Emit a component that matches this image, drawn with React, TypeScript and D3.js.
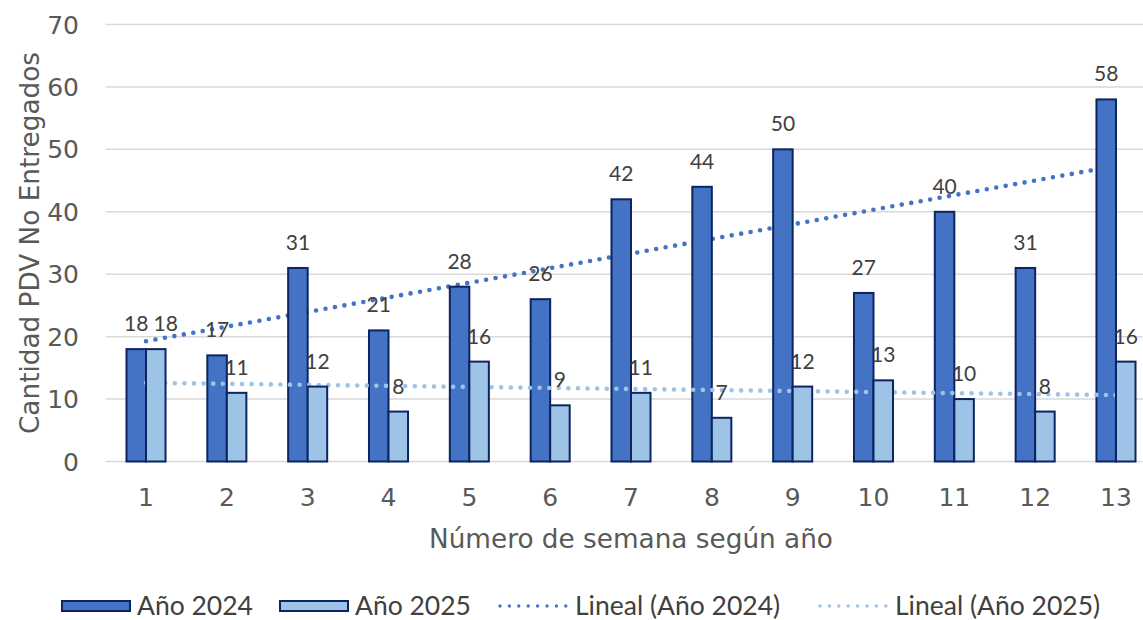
import React from "react";
import * as d3 from "d3";

// Weekly counts of undelivered points of sale (PDV), by year
const weeks: number[] = [1, 2, 3, 4, 5, 6, 7, 8, 9, 10, 11, 12, 13];
const values2024: number[] = [18, 17, 31, 21, 28, 26, 42, 44, 50, 27, 40, 31, 58];
const values2025: number[] = [18, 11, 12, 8, 16, 9, 11, 7, 12, 13, 10, 8, 16];
const yTicks: number[] = [0, 10, 20, 30, 40, 50, 60, 70];
const seriesNames: string[] = ["Año 2024", "Año 2025"];
const trendNames: string[] = ["Lineal (Año 2024)", "Lineal (Año 2025)"];

const W = 1143;
const H = 620;

const C2024 = "#4472C4";
const C2025 = "#9DC3E6";
const BAR_STROKE = "#0C2560";
const TICK_COLOR = "#595959";
const LABEL_COLOR = "#404040";
const AXIS_FONT = "'DejaVu Sans', Verdana, sans-serif";
const LABEL_FONT = "Lato, 'Open Sans', sans-serif";

// Least-squares line over (week, value), as a spreadsheet linear trendline
function linearFit(xs: number[], ys: number[]) {
  const mx = d3.mean(xs) as number;
  const my = d3.mean(ys) as number;
  let sxy = 0;
  let sxx = 0;
  xs.forEach((x, i) => {
    sxy += (x - mx) * (ys[i] - my);
    sxx += (x - mx) * (x - mx);
  });
  const slope = sxy / sxx;
  const intercept = my - slope * mx;
  return (x: number) => intercept + slope * x;
}

export default function App() {
  const plotLeft = 105.6;
  const plotRight = 1156.4;
  const gridRight = 1143;

  const x = d3
    .scaleBand<number>()
    .domain(weeks)
    .range([plotLeft, plotRight])
    .paddingInner(0.517)
    .paddingOuter(0.2585);
  const xSeries = d3
    .scaleBand<string>()
    .domain(seriesNames)
    .range([0, x.bandwidth()]);
  const y = d3.scaleLinear().domain([0, 70]).range([461.5, 24.5]);

  const center = (w: number) => (x(w) as number) + x.bandwidth() / 2;

  const fit2024 = linearFit(weeks, values2024);
  const fit2025 = linearFit(weeks, values2025);
  const first = weeks[0];
  const last = weeks[weeks.length - 1];
  const trendPath = (f: (v: number) => number) =>
    d3
      .line<number>()
      .x((w) => center(w))
      .y((w) => y(f(w)))([first, last]) as string;

  const bars = (vals: number[], si: number, fill: string) =>
    vals.map((v, i) => {
      const w = weeks[i];
      const bx = (x(w) as number) + (xSeries(seriesNames[si]) as number);
      return (
        <rect
          key={`b${si}-${w}`}
          x={bx}
          y={y(v)}
          width={xSeries.bandwidth()}
          height={y(0) - y(v)}
          fill={fill}
          stroke={BAR_STROKE}
          strokeWidth={2}
        />
      );
    });

  // Data labels sit above each bar; when the two labels of a week would
  // collide, the second one is nudged to the right.
  const labelOffset = 18;
  const labelSize = 21;
  const labels: React.ReactNode[] = [];
  weeks.forEach((w, i) => {
    const v1 = values2024[i];
    const v2 = values2025[i];
    const x1 = (x(w) as number) + (xSeries(seriesNames[0]) as number) + xSeries.bandwidth() / 2;
    const x2 = (x(w) as number) + (xSeries(seriesNames[1]) as number) + xSeries.bandwidth() / 2;
    const y1 = y(v1) - labelOffset;
    const y2 = y(v2) - labelOffset;
    const dx2 = Math.abs(y1 - y2) < 16 ? 10 : 0;
    labels.push(
      <text key={`l1-${w}`} x={x1} y={y1} textAnchor="middle" fontSize={labelSize} fill={LABEL_COLOR} fontFamily={LABEL_FONT}>
        {v1}
      </text>,
      <text key={`l2-${w}`} x={x2 + dx2} y={y2} textAnchor="middle" fontSize={labelSize} fill={LABEL_COLOR} fontFamily={LABEL_FONT}>
        {v2}
      </text>
    );
  });

  const dotted = (color: string, width: number, gap: number) => ({
    stroke: color,
    strokeWidth: width,
    strokeLinecap: "round" as const,
    strokeDasharray: `0 ${gap}`,
    fill: "none",
  });

  const legendY = 606;
  const legendItems = [
    { kind: "bar", fill: C2024, x0: 62, text: seriesNames[0] },
    { kind: "bar", fill: C2025, x0: 280, text: seriesNames[1] },
    { kind: "line", fill: C2024, x0: 500, text: trendNames[0] },
    { kind: "line", fill: C2025, x0: 820, text: trendNames[1] },
  ];

  return (
    <svg
      width={W}
      height={H}
      style={{ position: "absolute", left: 0, top: 0, background: "#fff" }}
    >
      <rect x={0} y={0} width={W} height={H} fill="#fff" />
      {/* gridlines */}
      {yTicks.map((t) => (
        <line key={`g${t}`} x1={plotLeft} x2={gridRight} y1={y(t)} y2={y(t)} stroke="#D9D9D9" strokeWidth={1.5} />
      ))}
      {/* y tick labels */}
      {yTicks.map((t) => (
        <text key={`yt${t}`} x={79} y={y(t) + 9} textAnchor="end" fontSize={25} fill={TICK_COLOR} fontFamily={AXIS_FONT}>
          {t}
        </text>
      ))}
      {/* x tick labels */}
      {weeks.map((w) => (
        <text key={`xt${w}`} x={center(w)} y={506} textAnchor="middle" fontSize={25} fill={TICK_COLOR} fontFamily={AXIS_FONT}>
          {w}
        </text>
      ))}
      {/* axis titles */}
      <text
        transform={`translate(39, ${(y(0) + y(70)) / 2}) rotate(-90)`}
        textAnchor="middle"
        fontSize={26.3}
        fill={TICK_COLOR}
        fontFamily={AXIS_FONT}
      >
        Cantidad PDV No Entregados
      </text>
      <text x={631} y={548} textAnchor="middle" fontSize={26.3} fill={TICK_COLOR} fontFamily={AXIS_FONT}>
        Número de semana según año
      </text>

      {/* 2024 trend, then 2024 bars, then 2025 trend, then 2025 bars */}
      <path d={trendPath(fit2024)} {...dotted(C2024, 4.6, 9.6)} />
      {bars(values2024, 0, C2024)}
      <path d={trendPath(fit2025)} {...dotted(C2025, 4.6, 9.6)} />
      {bars(values2025, 1, C2025)}

      {labels}

      {/* legend */}
      {legendItems.map((it) => (
        <g key={it.text}>
          {it.kind === "bar" ? (
            <rect x={it.x0} y={legendY - 5} width={68} height={10} fill={it.fill} stroke={BAR_STROKE} strokeWidth={2} />
          ) : (
            <line x1={it.x0} x2={it.x0 + 66} y1={legendY} y2={legendY} {...dotted(it.fill, 3.4, 9.4)} />
          )}
          <text x={it.x0 + 75} y={legendY + 9} fontSize={26.5} fill={LABEL_COLOR} fontFamily={LABEL_FONT}>
            {it.text}
          </text>
        </g>
      ))}
    </svg>
  );
}
